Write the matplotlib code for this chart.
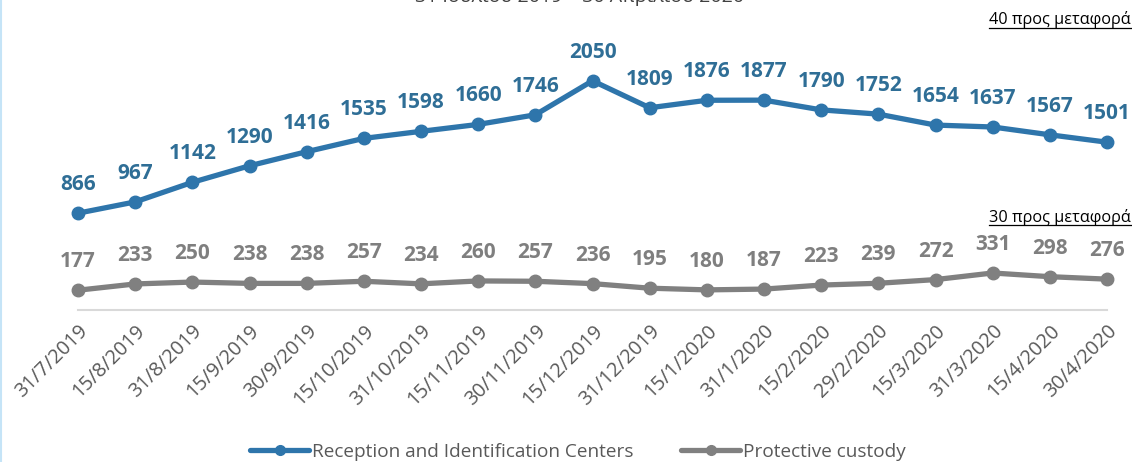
import matplotlib
matplotlib.use("Agg")
import matplotlib.pyplot as plt
from matplotlib.lines import Line2D

dates = ["31/7/2019", "15/8/2019", "31/8/2019", "15/9/2019", "30/9/2019", "15/10/2019",
         "31/10/2019", "15/11/2019", "30/11/2019", "15/12/2019", "31/12/2019", "15/1/2020",
         "31/1/2020", "15/2/2020", "29/2/2020", "15/3/2020", "31/3/2020", "15/4/2020", "30/4/2020"]
ric = [866, 967, 1142, 1290, 1416, 1535, 1598, 1660, 1746, 2050, 1809, 1876, 1877, 1790,
       1752, 1654, 1637, 1567, 1501]
custody = [177, 233, 250, 238, 238, 257, 234, 260, 257, 236, 195, 180, 187, 223, 239, 272,
           331, 298, 276]
series_names = ["Reception and Identification Centers", "Protective custody"]
title = "31 Ιουλίου 2019 – 30 Απριλίου 2020"
note_top = "40 προς μεταφορά"
note_bottom = "30 προς μεταφορά"

plt.rcParams['font.family'] = ['Open Sans', 'DejaVu Sans']

W, H = 1132, 462
fig = plt.figure(figsize=(W / 100, H / 100), dpi=100)
x0, x1 = 78, 1107
ybot, ytop = 310, 5
ax = fig.add_axes([x0 / W, (H - ybot) / H, (x1 - x0) / W, (ybot - ytop) / H])

blue_line = "#2E75AB"
blue_text = "#2F6E96"
gray_line = "#808080"
gray_text = "#7F7F7F"

xs = list(range(len(dates)))
ax.plot(xs, ric, color=blue_line, lw=3.8, marker='o', ms=9, solid_joinstyle='round',
        solid_capstyle='round', clip_on=False, label=series_names[0], zorder=3)
ax.plot(xs, custody, color=gray_line, lw=3.8, marker='o', ms=9, solid_joinstyle='round',
        solid_capstyle='round', clip_on=False, label=series_names[1], zorder=3)

for x, v in zip(xs, ric):
    ax.annotate(str(v), (x, v), xytext=(0, 13), textcoords='offset points', ha='center',
                va='bottom', color=blue_text, fontsize=15, fontweight='bold')
for x, v in zip(xs, custody):
    ax.annotate(str(v), (x, v), xytext=(0, 13), textcoords='offset points', ha='center',
                va='bottom', color=gray_text, fontsize=15, fontweight='bold')

ppu = 0.1118
ax.set_xlim(0, len(dates) - 1)
ax.set_ylim(0, (ybot - ytop) / ppu)
for s in ['top', 'right', 'left']:
    ax.spines[s].set_visible(False)
ax.spines['bottom'].set_color('#D9D9D9')
ax.spines['bottom'].set_linewidth(1.5)
ax.set_yticks([])
ax.set_xticks(xs)
ax.set_xticklabels(dates, rotation=45, ha='right', rotation_mode='anchor',
                   fontsize=14.3, color='#595959')
ax.tick_params(axis='x', length=0, pad=8)

leg = fig.legend(loc='center', bbox_to_anchor=(578 / W, (H - 452) / H), ncol=2, frameon=False,
                 fontsize=13.7, handlelength=3.1, columnspacing=2.5, handletextpad=0.15,
                 labelcolor='#595959')
for h in leg.legend_handles:
    h.set_markersize(7)

fig.text(580 / W, 1 - 1.5 / H, title, ha='center', va='baseline', fontsize=14, color='#404040')

t1 = fig.text(1131 / W, 1 - 20 / H, note_top, ha='right', va='center', fontsize=11.7, color='black')
t2 = fig.text(1131 / W, 1 - 217 / H, note_bottom, ha='right', va='center', fontsize=11.7, color='black')

# left border
fig.add_artist(Line2D([1 / W, 1 / W], [0, 1], transform=fig.transFigure, color='#C5E4F7', lw=1.5))

fig.canvas.draw()
r = fig.canvas.get_renderer()
for t in (t1, t2):
    bb = t.get_window_extent(r).transformed(fig.transFigure.inverted())
    yline = bb.y0 + 0.5 / H
    fig.add_artist(Line2D([bb.x0, bb.x1], [yline, yline], transform=fig.transFigure,
                          color='black', lw=0.9))

fig.savefig("out.png", dpi=100)
